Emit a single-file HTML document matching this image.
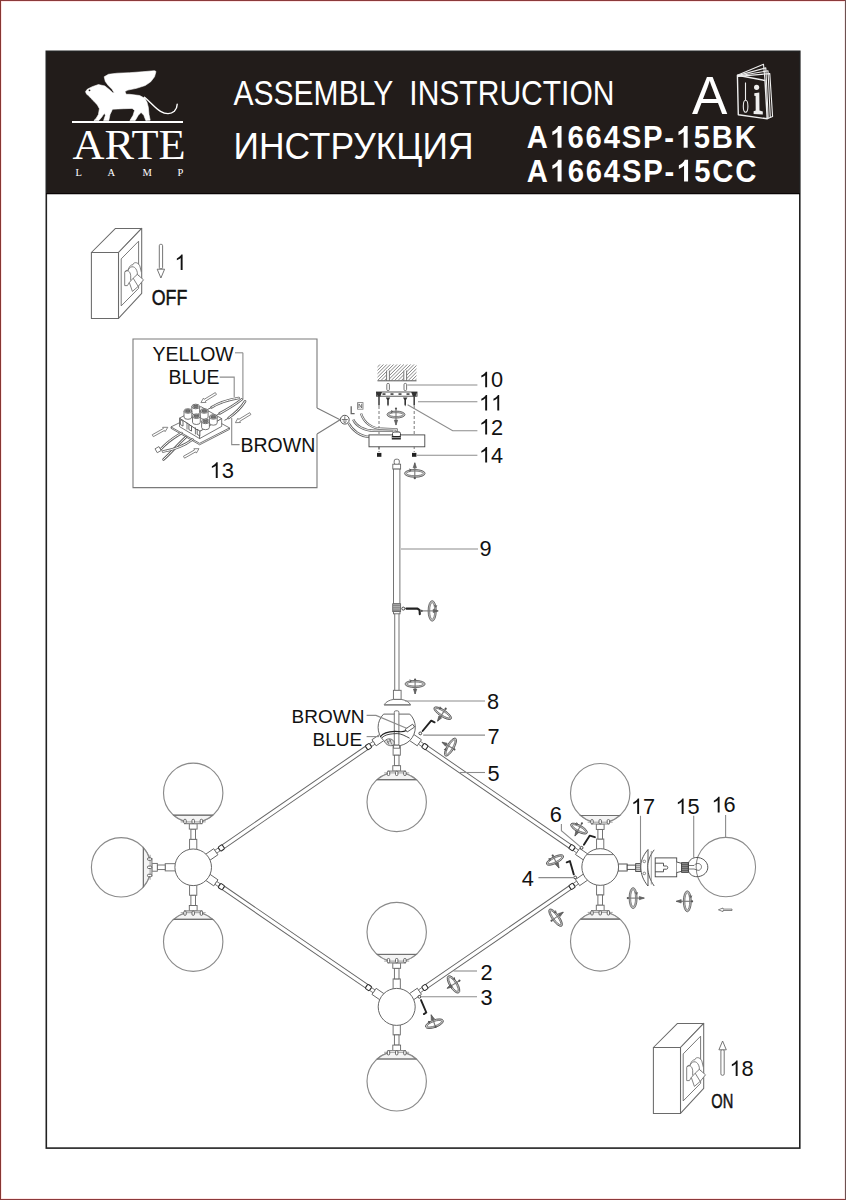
<!DOCTYPE html>
<html><head><meta charset="utf-8"><style>
html,body{margin:0;padding:0;background:#fff;width:846px;height:1200px;overflow:hidden}
svg{position:absolute;left:0;top:0;display:block}
text{font-family:"Liberation Sans",sans-serif}
.serif{font-family:"Liberation Serif",serif}
</style></head><body>
<svg width="846" height="1200" viewBox="0 0 846 1200">
<!-- outer edges -->
<rect x="0" y="0" width="846" height="1" fill="#8b3a3b"/>
<rect x="0" y="1199" width="846" height="1" fill="#8b3a3b"/>
<rect x="0" y="0" width="1" height="1200" fill="#873632"/>
<rect x="845" y="0" width="1" height="1200" fill="#6c5252"/>
<rect x="1" y="1" width="844" height="1" fill="#ffd6d6" opacity="0.6"/>
<rect x="1" y="1198" width="844" height="1" fill="#ffd6d6" opacity="0.6"/>
<rect x="1" y="1" width="1" height="1198" fill="#ffd6d6" opacity="0.6"/>
<rect x="844" y="1" width="1" height="1198" fill="#f3dede" opacity="0.6"/>

<!-- frame & header -->
<rect x="46" y="51" width="754" height="143" fill="#221c1a"/>
<rect x="46.3" y="51.3" width="753.5" height="1096.8" fill="none" stroke="#222" stroke-width="1.6"/>
<line x1="46" y1="193.6" x2="800" y2="193.6" stroke="#0a0506" stroke-width="1.2"/>

<g id="header" fill="#fff">
  <text x="233.5" y="104.7" font-size="35.3" xml:space="preserve" textLength="381" lengthAdjust="spacingAndGlyphs">ASSEMBLY  INSTRUCTION</text>
  <text x="233.5" y="158.8" font-size="37.5" textLength="240" lengthAdjust="spacingAndGlyphs">ИНСТРУКЦИЯ</text>
<!--H-->
<text x="526.67" y="147.8" font-size="31.8" font-weight="bold" fill="#fff" textLength="21.13" lengthAdjust="spacingAndGlyphs">A</text>
<path transform="translate(549.56,147.8) scale(0.01429,-0.01553)" d="M838,0 L557,0 L557,1013 Q403,875 194,810 L194,1054 Q304,1088 433,1184 Q562,1281 610,1409 L838,1409 Z" fill="#fff"/>
<text x="567.58" y="147.8" font-size="31.8" font-weight="bold" fill="#fff" textLength="16.27" lengthAdjust="spacingAndGlyphs">6</text>
<text x="585.61" y="147.8" font-size="31.8" font-weight="bold" fill="#fff" textLength="16.27" lengthAdjust="spacingAndGlyphs">6</text>
<text x="603.64" y="147.8" font-size="31.8" font-weight="bold" fill="#fff" textLength="16.27" lengthAdjust="spacingAndGlyphs">4</text>
<text x="621.67" y="147.8" font-size="31.8" font-weight="bold" fill="#fff" textLength="19.51" lengthAdjust="spacingAndGlyphs">S</text>
<text x="642.94" y="147.8" font-size="31.8" font-weight="bold" fill="#fff" textLength="19.51" lengthAdjust="spacingAndGlyphs">P</text>
<text x="664.21" y="147.8" font-size="31.8" font-weight="bold" fill="#fff" textLength="9.74" lengthAdjust="spacingAndGlyphs">-</text>
<path transform="translate(675.70,147.8) scale(0.01429,-0.01553)" d="M838,0 L557,0 L557,1013 Q403,875 194,810 L194,1054 Q304,1088 433,1184 Q562,1281 610,1409 L838,1409 Z" fill="#fff"/>
<text x="693.73" y="147.8" font-size="31.8" font-weight="bold" fill="#fff" textLength="16.27" lengthAdjust="spacingAndGlyphs">5</text>
<text x="711.76" y="147.8" font-size="31.8" font-weight="bold" fill="#fff" textLength="21.13" lengthAdjust="spacingAndGlyphs">B</text>
<text x="734.64" y="147.8" font-size="31.8" font-weight="bold" fill="#fff" textLength="21.13" lengthAdjust="spacingAndGlyphs">K</text>
<text x="526.67" y="181.6" font-size="31.8" font-weight="bold" fill="#fff" textLength="21.13" lengthAdjust="spacingAndGlyphs">A</text>
<path transform="translate(549.60,181.6) scale(0.01429,-0.01553)" d="M838,0 L557,0 L557,1013 Q403,875 194,810 L194,1054 Q304,1088 433,1184 Q562,1281 610,1409 L838,1409 Z" fill="#fff"/>
<text x="567.68" y="181.6" font-size="31.8" font-weight="bold" fill="#fff" textLength="16.27" lengthAdjust="spacingAndGlyphs">6</text>
<text x="585.75" y="181.6" font-size="31.8" font-weight="bold" fill="#fff" textLength="16.27" lengthAdjust="spacingAndGlyphs">6</text>
<text x="603.83" y="181.6" font-size="31.8" font-weight="bold" fill="#fff" textLength="16.27" lengthAdjust="spacingAndGlyphs">4</text>
<text x="621.91" y="181.6" font-size="31.8" font-weight="bold" fill="#fff" textLength="19.51" lengthAdjust="spacingAndGlyphs">S</text>
<text x="643.22" y="181.6" font-size="31.8" font-weight="bold" fill="#fff" textLength="19.51" lengthAdjust="spacingAndGlyphs">P</text>
<text x="664.54" y="181.6" font-size="31.8" font-weight="bold" fill="#fff" textLength="9.74" lengthAdjust="spacingAndGlyphs">-</text>
<path transform="translate(676.09,181.6) scale(0.01429,-0.01553)" d="M838,0 L557,0 L557,1013 Q403,875 194,810 L194,1054 Q304,1088 433,1184 Q562,1281 610,1409 L838,1409 Z" fill="#fff"/>
<text x="694.16" y="181.6" font-size="31.8" font-weight="bold" fill="#fff" textLength="16.27" lengthAdjust="spacingAndGlyphs">5</text>
<text x="712.24" y="181.6" font-size="31.8" font-weight="bold" fill="#fff" textLength="21.13" lengthAdjust="spacingAndGlyphs">C</text>
<text x="735.17" y="181.6" font-size="31.8" font-weight="bold" fill="#fff" textLength="21.13" lengthAdjust="spacingAndGlyphs">C</text>
<!--/H-->
  <text x="692" y="114" font-size="53">A</text>
  <text class="serif" x="72.5" y="158.5" font-size="43" textLength="113" lengthAdjust="spacingAndGlyphs">ARTE</text>
  <text class="serif" x="75.5" y="176" font-size="10.5">L</text>
  <text class="serif" x="107.5" y="176" font-size="10.5">A</text>
  <text class="serif" x="142.5" y="176" font-size="10.5">M</text>
  <text class="serif" x="177.5" y="176" font-size="10.5">P</text>
  <rect x="72" y="121" width="111" height="2"/>
  <g fill="none" stroke="#eee" stroke-width="1.1" stroke-linejoin="round">
    <path d="M737.4,75.2 L765,80.5 L767.2,118.8 L738.3,114.8 Z" stroke-width="1.4"/>
    <path d="M737.4,75.2 L763.5,64.3 L765,80.5"/>
    <path d="M737.6,75.6 L765.8,67.9 L768.2,118.2"/>
    <path d="M737.8,76 L768,70.8 L770.3,117.6"/>
    <path d="M738,76.4 L769.8,73.6 L772.6,116.6 L767.2,118.8"/>
    <path d="M745.5,82.5 L745.5,100"/>
  </g>
  <ellipse cx="745.6" cy="106.3" rx="2.3" ry="6" fill="none" stroke="#eee" stroke-width="1.1"/>
  <circle cx="756.6" cy="87.3" r="2.6" fill="#eee"/>
  <path d="M754.3,93.2 L759.3,92.6 L759.5,110.6 L762.8,111.6 L762.8,114.5 L753.6,114 L753.6,111.3 L755.7,110.6 L755.6,96 L754.3,95.8 Z" fill="#eee"/>
  <path d="M104.2,76.8 L108.5,74.3 L117.2,73.2 L129.6,72.7 L142.1,71.8 L154.5,70.7 L156.0,71.5 L154.5,76.8 L150.7,81.8 L145.2,85.5 L136.5,88.3 L127.8,90.1 L124.9,91.6 L126.2,94.3 L129.6,94.3 L139.6,95.5 L144.8,98.3 L147.0,102.2 L148.3,107.2 L149.0,114.6 L150.2,120.2 L145.8,120.5 L143.8,115.3 L141.1,112.4 L138.3,115.3 L135.2,120.5 L129.9,120.5 L133.1,115.3 L134.6,110.3 L132.1,108.4 L123.4,108.7 L112.5,109.2 L110.0,114.6 L108.8,120.5 L103.6,120.5 L105.4,115.3 L104.3,113.2 L101.8,117.1 L98.9,120.5 L93.9,120.5 L96.1,118.4 L98.4,114.6 L99.4,108.7 L97.4,105.0 L93.9,101.2 L90.7,98.1 L88.7,95.8 L86.7,94.3 L85.5,91.7 L87.2,89.3 L92.2,86.7 L98.4,84.6 L104.8,85.9 L109.3,89.6 L112.5,92.6 L114.3,93.1 L112.0,89.3 L108.3,85.5 L105.3,81.4 Z" stroke="#fff" stroke-width="0.6" stroke-linejoin="round"/>
  <circle cx="89.5" cy="90.3" r="0.9" fill="#221c1a"/>
  <path d="M144.5,97.2 C150,101.5 155,108 160.5,111.3 C165.5,114.3 171,114.2 174.3,111.2 C176.5,109 177.2,106.5 177.2,104.3" fill="none" stroke="#fff" stroke-width="1.4" stroke-linecap="round"/>
</g>

<!--D-->
<g id="diagram">
<g transform="translate(396.7,727.2) rotate(145.454)">
<rect x="36.6" y="-2.1" width="173.9" height="4.2" fill="#fff" stroke="#666666" stroke-width="0.95"/>
<rect x="16.9" y="-3.7" width="10.6" height="7.4" fill="#fff" stroke="#666666" stroke-width="0.9"/>
<rect x="27.5" y="-1.7" width="4.0" height="3.4" fill="#fff" stroke="#666666" stroke-width="0.8"/>
<rect x="31.8" y="-2.5" width="4.8" height="5.0" rx="1.1" fill="#fff" stroke="#2a2a2a" stroke-width="1.0"/>
<rect x="219.6" y="-3.7" width="10.6" height="7.4" fill="#fff" stroke="#666666" stroke-width="0.9"/>
<rect x="215.6" y="-1.7" width="4.0" height="3.4" fill="#fff" stroke="#666666" stroke-width="0.8"/>
<rect x="210.5" y="-2.5" width="4.8" height="5.0" rx="1.1" fill="#fff" stroke="#2a2a2a" stroke-width="1.0"/>
</g>
<g transform="translate(396.7,727.2) rotate(34.488)">
<rect x="36.6" y="-2.1" width="173.7" height="4.2" fill="#fff" stroke="#666666" stroke-width="0.95"/>
<rect x="16.9" y="-3.7" width="10.6" height="7.4" fill="#fff" stroke="#666666" stroke-width="0.9"/>
<rect x="27.5" y="-1.7" width="4.0" height="3.4" fill="#fff" stroke="#666666" stroke-width="0.8"/>
<rect x="31.8" y="-2.5" width="4.8" height="5.0" rx="1.1" fill="#fff" stroke="#2a2a2a" stroke-width="1.0"/>
<rect x="219.4" y="-3.7" width="10.6" height="7.4" fill="#fff" stroke="#666666" stroke-width="0.9"/>
<rect x="215.4" y="-1.7" width="4.0" height="3.4" fill="#fff" stroke="#666666" stroke-width="0.8"/>
<rect x="210.3" y="-2.5" width="4.8" height="5.0" rx="1.1" fill="#fff" stroke="#2a2a2a" stroke-width="1.0"/>
</g>
<g transform="translate(193.2,867.3) rotate(34.450)">
<rect x="36.6" y="-2.1" width="173.6" height="4.2" fill="#fff" stroke="#666666" stroke-width="0.95"/>
<rect x="16.9" y="-3.7" width="10.6" height="7.4" fill="#fff" stroke="#666666" stroke-width="0.9"/>
<rect x="27.5" y="-1.7" width="4.0" height="3.4" fill="#fff" stroke="#666666" stroke-width="0.8"/>
<rect x="31.8" y="-2.5" width="4.8" height="5.0" rx="1.1" fill="#fff" stroke="#2a2a2a" stroke-width="1.0"/>
<rect x="219.3" y="-3.7" width="10.6" height="7.4" fill="#fff" stroke="#666666" stroke-width="0.9"/>
<rect x="215.3" y="-1.7" width="4.0" height="3.4" fill="#fff" stroke="#666666" stroke-width="0.8"/>
<rect x="210.2" y="-2.5" width="4.8" height="5.0" rx="1.1" fill="#fff" stroke="#2a2a2a" stroke-width="1.0"/>
</g>
<g transform="translate(600.2,867.0) rotate(145.493)">
<rect x="36.6" y="-2.1" width="173.7" height="4.2" fill="#fff" stroke="#666666" stroke-width="0.95"/>
<rect x="16.9" y="-3.7" width="10.6" height="7.4" fill="#fff" stroke="#666666" stroke-width="0.9"/>
<rect x="27.5" y="-1.7" width="4.0" height="3.4" fill="#fff" stroke="#666666" stroke-width="0.8"/>
<rect x="31.8" y="-2.5" width="4.8" height="5.0" rx="1.1" fill="#fff" stroke="#2a2a2a" stroke-width="1.0"/>
<rect x="219.4" y="-3.7" width="10.6" height="7.4" fill="#fff" stroke="#666666" stroke-width="0.9"/>
<rect x="215.4" y="-1.7" width="4.0" height="3.4" fill="#fff" stroke="#666666" stroke-width="0.8"/>
<rect x="210.3" y="-2.5" width="4.8" height="5.0" rx="1.1" fill="#fff" stroke="#2a2a2a" stroke-width="1.0"/>
</g>
<g transform="translate(396.7,727.2) rotate(90)">
<rect x="17.2" y="-3.6" width="10.8" height="7.2" fill="#fff" stroke="#666666" stroke-width="0.9"/>
<rect x="28" y="-2.3" width="10.5" height="4.6" fill="#fff" stroke="#666666" stroke-width="0.9"/>
<rect x="38.5" y="-3.9" width="5.4" height="7.8" fill="#fff" stroke="#666666" stroke-width="0.9"/>
<circle cx="74.7" cy="0" r="29.7" fill="#fff" stroke="#8a8a8a" stroke-width="1.15"/>
<path d="M52.40,-19.62 A29.7,29.7 0 0 0 46.27,-8.6 L43.90,-8.6 L43.90,8.6 L46.27,8.6 A29.7,29.7 0 0 0 52.40,19.62 Z" fill="#f4f4f4" stroke="#8a8a8a" stroke-width="1.2"/>
<line x1="52.40" y1="-19.62" x2="52.40" y2="19.62" stroke="#707070" stroke-width="1.05"/>
<line x1="45.70" y1="-12.5" x2="45.70" y2="12.5" stroke="#8a8a8a" stroke-width="0.8"/>
<rect x="44.10" y="-9.399999999999999" width="4.2" height="2.4" rx="1.0" fill="#fff" stroke="#555" stroke-width="0.9"/>
<rect x="44.10" y="-1.2" width="4.2" height="2.4" rx="1.0" fill="#fff" stroke="#555" stroke-width="0.9"/>
<rect x="44.10" y="6.999999999999999" width="4.2" height="2.4" rx="1.0" fill="#fff" stroke="#555" stroke-width="0.9"/>
</g>
<g transform="translate(193.2,867.3) rotate(-90)">
<rect x="17.2" y="-3.6" width="10.8" height="7.2" fill="#fff" stroke="#666666" stroke-width="0.9"/>
<rect x="28" y="-2.3" width="10.2" height="4.6" fill="#fff" stroke="#666666" stroke-width="0.9"/>
<rect x="38.2" y="-3.9" width="5.4" height="7.8" fill="#fff" stroke="#666666" stroke-width="0.9"/>
<circle cx="74.4" cy="0" r="29.7" fill="#fff" stroke="#8a8a8a" stroke-width="1.15"/>
<path d="M52.10,-19.62 A29.7,29.7 0 0 0 45.97,-8.6 L43.60,-8.6 L43.60,8.6 L45.97,8.6 A29.7,29.7 0 0 0 52.10,19.62 Z" fill="#f4f4f4" stroke="#8a8a8a" stroke-width="1.2"/>
<line x1="52.10" y1="-19.62" x2="52.10" y2="19.62" stroke="#707070" stroke-width="1.05"/>
<line x1="45.40" y1="-12.5" x2="45.40" y2="12.5" stroke="#8a8a8a" stroke-width="0.8"/>
<rect x="43.80" y="-9.399999999999999" width="4.2" height="2.4" rx="1.0" fill="#fff" stroke="#555" stroke-width="0.9"/>
<rect x="43.80" y="-1.2" width="4.2" height="2.4" rx="1.0" fill="#fff" stroke="#555" stroke-width="0.9"/>
<rect x="43.80" y="6.999999999999999" width="4.2" height="2.4" rx="1.0" fill="#fff" stroke="#555" stroke-width="0.9"/>
</g>
<g transform="translate(193.2,867.3) rotate(90)">
<rect x="17.2" y="-3.6" width="10.8" height="7.2" fill="#fff" stroke="#666666" stroke-width="0.9"/>
<rect x="28" y="-2.3" width="10.2" height="4.6" fill="#fff" stroke="#666666" stroke-width="0.9"/>
<rect x="38.2" y="-3.9" width="5.4" height="7.8" fill="#fff" stroke="#666666" stroke-width="0.9"/>
<circle cx="74.4" cy="0" r="29.7" fill="#fff" stroke="#8a8a8a" stroke-width="1.15"/>
<path d="M52.10,-19.62 A29.7,29.7 0 0 0 45.97,-8.6 L43.60,-8.6 L43.60,8.6 L45.97,8.6 A29.7,29.7 0 0 0 52.10,19.62 Z" fill="#f4f4f4" stroke="#8a8a8a" stroke-width="1.2"/>
<line x1="52.10" y1="-19.62" x2="52.10" y2="19.62" stroke="#707070" stroke-width="1.05"/>
<line x1="45.40" y1="-12.5" x2="45.40" y2="12.5" stroke="#8a8a8a" stroke-width="0.8"/>
<rect x="43.80" y="-9.399999999999999" width="4.2" height="2.4" rx="1.0" fill="#fff" stroke="#555" stroke-width="0.9"/>
<rect x="43.80" y="-1.2" width="4.2" height="2.4" rx="1.0" fill="#fff" stroke="#555" stroke-width="0.9"/>
<rect x="43.80" y="6.999999999999999" width="4.2" height="2.4" rx="1.0" fill="#fff" stroke="#555" stroke-width="0.9"/>
</g>
<g transform="translate(193.2,867.3) rotate(180)">
<rect x="17.2" y="-3.6" width="10.8" height="7.2" fill="#fff" stroke="#666666" stroke-width="0.9"/>
<rect x="28" y="-2.3" width="7.9" height="4.6" fill="#fff" stroke="#666666" stroke-width="0.9"/>
<rect x="35.9" y="-3.9" width="5.4" height="7.8" fill="#fff" stroke="#666666" stroke-width="0.9"/>
<circle cx="72.1" cy="0" r="29.7" fill="#fff" stroke="#8a8a8a" stroke-width="1.15"/>
<path d="M49.80,-19.62 A29.7,29.7 0 0 0 43.67,-8.6 L41.30,-8.6 L41.30,8.6 L43.67,8.6 A29.7,29.7 0 0 0 49.80,19.62 Z" fill="#f4f4f4" stroke="#8a8a8a" stroke-width="1.2"/>
<line x1="49.80" y1="-19.62" x2="49.80" y2="19.62" stroke="#707070" stroke-width="1.05"/>
<line x1="43.10" y1="-12.5" x2="43.10" y2="12.5" stroke="#8a8a8a" stroke-width="0.8"/>
<rect x="41.50" y="-9.399999999999999" width="4.2" height="2.4" rx="1.0" fill="#fff" stroke="#555" stroke-width="0.9"/>
<rect x="41.50" y="-1.2" width="4.2" height="2.4" rx="1.0" fill="#fff" stroke="#555" stroke-width="0.9"/>
<rect x="41.50" y="6.999999999999999" width="4.2" height="2.4" rx="1.0" fill="#fff" stroke="#555" stroke-width="0.9"/>
</g>
<g transform="translate(600.2,867.0) rotate(-90)">
<rect x="17.2" y="-3.6" width="10.8" height="7.2" fill="#fff" stroke="#666666" stroke-width="0.9"/>
<rect x="28" y="-2.3" width="9.6" height="4.6" fill="#fff" stroke="#666666" stroke-width="0.9"/>
<rect x="37.6" y="-3.9" width="5.4" height="7.8" fill="#fff" stroke="#666666" stroke-width="0.9"/>
<circle cx="73.8" cy="0" r="29.7" fill="#fff" stroke="#8a8a8a" stroke-width="1.15"/>
<path d="M51.50,-19.62 A29.7,29.7 0 0 0 45.37,-8.6 L43.00,-8.6 L43.00,8.6 L45.37,8.6 A29.7,29.7 0 0 0 51.50,19.62 Z" fill="#f4f4f4" stroke="#8a8a8a" stroke-width="1.2"/>
<line x1="51.50" y1="-19.62" x2="51.50" y2="19.62" stroke="#707070" stroke-width="1.05"/>
<line x1="44.80" y1="-12.5" x2="44.80" y2="12.5" stroke="#8a8a8a" stroke-width="0.8"/>
<rect x="43.20" y="-9.399999999999999" width="4.2" height="2.4" rx="1.0" fill="#fff" stroke="#555" stroke-width="0.9"/>
<rect x="43.20" y="-1.2" width="4.2" height="2.4" rx="1.0" fill="#fff" stroke="#555" stroke-width="0.9"/>
<rect x="43.20" y="6.999999999999999" width="4.2" height="2.4" rx="1.0" fill="#fff" stroke="#555" stroke-width="0.9"/>
</g>
<g transform="translate(600.2,867.0) rotate(90)">
<rect x="17.2" y="-3.6" width="10.8" height="7.2" fill="#fff" stroke="#666666" stroke-width="0.9"/>
<rect x="28" y="-2.3" width="10.2" height="4.6" fill="#fff" stroke="#666666" stroke-width="0.9"/>
<rect x="38.2" y="-3.9" width="5.4" height="7.8" fill="#fff" stroke="#666666" stroke-width="0.9"/>
<circle cx="74.4" cy="0" r="29.7" fill="#fff" stroke="#8a8a8a" stroke-width="1.15"/>
<path d="M52.10,-19.62 A29.7,29.7 0 0 0 45.97,-8.6 L43.60,-8.6 L43.60,8.6 L45.97,8.6 A29.7,29.7 0 0 0 52.10,19.62 Z" fill="#f4f4f4" stroke="#8a8a8a" stroke-width="1.2"/>
<line x1="52.10" y1="-19.62" x2="52.10" y2="19.62" stroke="#707070" stroke-width="1.05"/>
<line x1="45.40" y1="-12.5" x2="45.40" y2="12.5" stroke="#8a8a8a" stroke-width="0.8"/>
<rect x="43.80" y="-9.399999999999999" width="4.2" height="2.4" rx="1.0" fill="#fff" stroke="#555" stroke-width="0.9"/>
<rect x="43.80" y="-1.2" width="4.2" height="2.4" rx="1.0" fill="#fff" stroke="#555" stroke-width="0.9"/>
<rect x="43.80" y="6.999999999999999" width="4.2" height="2.4" rx="1.0" fill="#fff" stroke="#555" stroke-width="0.9"/>
</g>
<g transform="translate(396.7,1006.9) rotate(-90)">
<rect x="17.2" y="-3.6" width="10.8" height="7.2" fill="#fff" stroke="#666666" stroke-width="0.9"/>
<rect x="28" y="-2.3" width="10.6" height="4.6" fill="#fff" stroke="#666666" stroke-width="0.9"/>
<rect x="38.6" y="-3.9" width="5.4" height="7.8" fill="#fff" stroke="#666666" stroke-width="0.9"/>
<circle cx="74.8" cy="0" r="29.7" fill="#fff" stroke="#8a8a8a" stroke-width="1.15"/>
<path d="M52.50,-19.62 A29.7,29.7 0 0 0 46.37,-8.6 L44.00,-8.6 L44.00,8.6 L46.37,8.6 A29.7,29.7 0 0 0 52.50,19.62 Z" fill="#f4f4f4" stroke="#8a8a8a" stroke-width="1.2"/>
<line x1="52.50" y1="-19.62" x2="52.50" y2="19.62" stroke="#707070" stroke-width="1.05"/>
<line x1="45.80" y1="-12.5" x2="45.80" y2="12.5" stroke="#8a8a8a" stroke-width="0.8"/>
<rect x="44.20" y="-9.399999999999999" width="4.2" height="2.4" rx="1.0" fill="#fff" stroke="#555" stroke-width="0.9"/>
<rect x="44.20" y="-1.2" width="4.2" height="2.4" rx="1.0" fill="#fff" stroke="#555" stroke-width="0.9"/>
<rect x="44.20" y="6.999999999999999" width="4.2" height="2.4" rx="1.0" fill="#fff" stroke="#555" stroke-width="0.9"/>
</g>
<g transform="translate(396.7,1006.9) rotate(90)">
<rect x="17.2" y="-3.6" width="10.8" height="7.2" fill="#fff" stroke="#666666" stroke-width="0.9"/>
<rect x="28" y="-2.3" width="10.2" height="4.6" fill="#fff" stroke="#666666" stroke-width="0.9"/>
<rect x="38.2" y="-3.9" width="5.4" height="7.8" fill="#fff" stroke="#666666" stroke-width="0.9"/>
<circle cx="74.4" cy="0" r="29.7" fill="#fff" stroke="#8a8a8a" stroke-width="1.15"/>
<path d="M52.10,-19.62 A29.7,29.7 0 0 0 45.97,-8.6 L43.60,-8.6 L43.60,8.6 L45.97,8.6 A29.7,29.7 0 0 0 52.10,19.62 Z" fill="#f4f4f4" stroke="#8a8a8a" stroke-width="1.2"/>
<line x1="52.10" y1="-19.62" x2="52.10" y2="19.62" stroke="#707070" stroke-width="1.05"/>
<line x1="45.40" y1="-12.5" x2="45.40" y2="12.5" stroke="#8a8a8a" stroke-width="0.8"/>
<rect x="43.80" y="-9.399999999999999" width="4.2" height="2.4" rx="1.0" fill="#fff" stroke="#555" stroke-width="0.9"/>
<rect x="43.80" y="-1.2" width="4.2" height="2.4" rx="1.0" fill="#fff" stroke="#555" stroke-width="0.9"/>
<rect x="43.80" y="6.999999999999999" width="4.2" height="2.4" rx="1.0" fill="#fff" stroke="#555" stroke-width="0.9"/>
</g>
<g fill="#fff" stroke="#666666" stroke-width="0.9">
<rect x="394.2" y="459.2" width="5.1" height="5.4" rx="1.8"/>
<rect x="392.8" y="464.2" width="7.8" height="4.9"/>
<rect x="393.5" y="469.1" width="6.4" height="134.7"/>
<rect x="394.75" y="611.6" width="4.25" height="79.2"/>
<rect x="392.7" y="603.8" width="7.9" height="7.8" fill="#b5b5b5"/>
<rect x="393.5" y="611.6" width="6.5" height="2.2"/>
<rect x="393.4" y="690.3" width="7.7" height="9.1"/>
<path d="M384.1,704.8 C386,701.5 390,700 393.4,699.4 L401.1,699.4 C405,700 409,701.5 410.6,704.8 Z" fill="#fff"/>
<line x1="384.1" y1="704.8" x2="410.6" y2="704.8" stroke="#888" stroke-width="1.6"/>
</g>
<line x1="393" y1="605.5" x2="400.3" y2="605.5" stroke="#666" stroke-width="0.6"/>
<line x1="393" y1="607.3" x2="400.3" y2="607.3" stroke="#666" stroke-width="0.6"/>
<line x1="393" y1="609.1" x2="400.3" y2="609.1" stroke="#666" stroke-width="0.6"/>
<line x1="393" y1="610.6" x2="400.3" y2="610.6" stroke="#666" stroke-width="0.6"/>
<circle cx="403.3" cy="608.6" r="1.5" fill="#fff" stroke="#333" stroke-width="0.9"/>
<path d="M406.3,608.6 L417.5,608.6 L419.6,610.2 L419.8,614.1" fill="none" stroke="#222" stroke-width="2.1" stroke-linecap="round" stroke-linejoin="round"/>
<g transform="translate(432.2,610.9) rotate(90)" fill="none">
<ellipse cx="0" cy="0" rx="9.30" ry="3.30" stroke="#c4c4c4" stroke-width="1.6"/>
<ellipse cx="0" cy="0" rx="10.3" ry="4.1" stroke="#5a5a5a" stroke-width="0.85"/>
<ellipse cx="0" cy="0" rx="8.30" ry="2.50" stroke="#6a6a6a" stroke-width="0.75"/>
<path d="M-5.67,-4.60 L-3.60,-3.69 L-5.67,-2.20" stroke="#555" stroke-width="0.9"/>
<line x1="0" y1="10.5" x2="0" y2="-6.0" stroke="#777" stroke-width="1.1"/>
<path d="M-1.7,-1.0 L0,-6.0 L1.7,-1.0 Z" fill="#666" stroke="#555" stroke-width="0.6"/>
<circle cx="0" cy="10.5" r="1.1" fill="#555"/>
</g>
<g transform="translate(414.8,473.4) rotate(0)" fill="none">
<ellipse cx="0" cy="0" rx="9.30" ry="3.10" stroke="#c4c4c4" stroke-width="1.6"/>
<ellipse cx="0" cy="0" rx="10.3" ry="3.9" stroke="#5a5a5a" stroke-width="0.85"/>
<ellipse cx="0" cy="0" rx="8.30" ry="2.30" stroke="#6a6a6a" stroke-width="0.75"/>
<path d="M-5.67,-4.44 L-3.60,-3.51 L-5.67,-2.04" stroke="#555" stroke-width="0.9"/>
<line x1="0" y1="4.8" x2="0" y2="-10.6" stroke="#777" stroke-width="1.1"/>
<path d="M-1.7,-5.6 L0,-10.6 L1.7,-5.6 Z" fill="#666" stroke="#555" stroke-width="0.6"/>
<circle cx="0" cy="4.8" r="1.1" fill="#555"/>
</g>
<g transform="translate(415.1,684.0) rotate(0)" fill="none">
<ellipse cx="0" cy="0" rx="9.10" ry="2.80" stroke="#c4c4c4" stroke-width="1.6"/>
<ellipse cx="0" cy="0" rx="10.1" ry="3.6" stroke="#5a5a5a" stroke-width="0.85"/>
<ellipse cx="0" cy="0" rx="8.10" ry="2.00" stroke="#6a6a6a" stroke-width="0.75"/>
<path d="M-5.56,-4.19 L-3.53,-3.24 L-5.56,-1.79" stroke="#555" stroke-width="0.9"/>
<line x1="0" y1="-4.5" x2="0" y2="10.0" stroke="#777" stroke-width="1.1"/>
<path d="M-1.7,5.0 L0,10.0 L1.7,5.0 Z" fill="#666" stroke="#555" stroke-width="0.6"/>
<circle cx="0" cy="-4.5" r="1.1" fill="#555"/>
</g>
<defs><clipPath id="hc"><rect x="377.5" y="364.3" width="39" height="16.3"/></clipPath></defs>
<g clip-path="url(#hc)" stroke="#777" stroke-width="0.9">
<line x1="363.9" y1="380.6" x2="380.2" y2="364.3"/>
<line x1="367.3" y1="380.6" x2="383.6" y2="364.3"/>
<line x1="370.7" y1="380.6" x2="387.0" y2="364.3"/>
<line x1="374.1" y1="380.6" x2="390.4" y2="364.3"/>
<line x1="377.5" y1="380.6" x2="393.8" y2="364.3"/>
<line x1="380.9" y1="380.6" x2="397.2" y2="364.3"/>
<line x1="384.3" y1="380.6" x2="400.6" y2="364.3"/>
<line x1="387.7" y1="380.6" x2="404.0" y2="364.3"/>
<line x1="391.1" y1="380.6" x2="407.4" y2="364.3"/>
<line x1="394.5" y1="380.6" x2="410.8" y2="364.3"/>
<line x1="397.9" y1="380.6" x2="414.2" y2="364.3"/>
<line x1="401.3" y1="380.6" x2="417.6" y2="364.3"/>
<line x1="404.7" y1="380.6" x2="421.0" y2="364.3"/>
<line x1="408.1" y1="380.6" x2="424.4" y2="364.3"/>
<line x1="411.5" y1="380.6" x2="427.8" y2="364.3"/>
<line x1="414.9" y1="380.6" x2="431.2" y2="364.3"/>
<line x1="418.3" y1="380.6" x2="434.6" y2="364.3"/>
<line x1="421.7" y1="380.6" x2="438.0" y2="364.3"/>
</g>
<rect x="386.3" y="370.5" width="3.4" height="10.5" fill="#fff"/>
<rect x="403.5" y="370.5" width="3.4" height="10.5" fill="#fff"/>
<g stroke="#555" stroke-width="0.8"><line x1="386.6" y1="370.5" x2="386.6" y2="380.6"/><line x1="389.4" y1="370.5" x2="389.4" y2="380.6"/><line x1="403.8" y1="370.5" x2="403.8" y2="380.6"/><line x1="406.6" y1="370.5" x2="406.6" y2="380.6"/></g>
<line x1="377.5" y1="380.8" x2="416.5" y2="380.8" stroke="#555" stroke-width="1"/>
<g fill="#fff" stroke="#555" stroke-width="0.8"><rect x="386.8" y="383.4" width="2.6" height="7.2" rx="1.2"/><rect x="404" y="383.4" width="2.6" height="7.2" rx="1.2"/></g>
<rect x="376.5" y="392" width="40.5" height="4.2" fill="#fff" stroke="#444" stroke-width="0.9"/>
<rect x="382.5" y="393.2" width="3" height="1.8" fill="#555"/>
<rect x="390.5" y="393.2" width="3" height="1.8" fill="#555"/>
<rect x="398.5" y="393.2" width="3" height="1.8" fill="#555"/>
<rect x="406.5" y="393.2" width="3" height="1.8" fill="#555"/>
<path d="M376,392 L382,392 L380.3,396.5 L377.7,396.5 Z" fill="#333"/>
<line x1="379" y1="396" x2="379" y2="405.5" stroke="#444" stroke-width="1.6"/>
<path d="M411.2,392 L417.2,392 L415.5,396.5 L412.9,396.5 Z" fill="#333"/>
<line x1="414.2" y1="396" x2="414.2" y2="405.5" stroke="#444" stroke-width="1.6"/>
<path d="M385.8,397.6 L390.2,397.6 L388.8,400 L388.8,404.5 L388,406.5 L387.2,404.5 L387.2,400 Z" fill="#333"/>
<path d="M403.0,397.6 L407.4,397.6 L406.0,400 L406.0,404.5 L405.2,406.5 L404.4,404.5 L404.4,400 Z" fill="#333"/>
<g transform="translate(396,414.6) rotate(0)" fill="none">
<ellipse cx="0" cy="0" rx="8.00" ry="2.70" stroke="#c4c4c4" stroke-width="1.6"/>
<ellipse cx="0" cy="0" rx="9" ry="3.5" stroke="#5a5a5a" stroke-width="0.85"/>
<ellipse cx="0" cy="0" rx="7.00" ry="1.90" stroke="#6a6a6a" stroke-width="0.75"/>
<path d="M-4.95,-4.10 L-3.15,-3.15 L-4.95,-1.70" stroke="#555" stroke-width="0.9"/>
<line x1="0" y1="-6.0" x2="0" y2="10.5" stroke="#777" stroke-width="1.1"/>
<path d="M-1.7,5.5 L0,10.5 L1.7,5.5 Z" fill="#666" stroke="#555" stroke-width="0.6"/>
<circle cx="0" cy="-6.0" r="1.1" fill="#555"/>
</g>
<g stroke="#555" stroke-width="0.8" stroke-dasharray="3 2"><line x1="379" y1="406" x2="379" y2="452"/><line x1="414.2" y1="406" x2="414.2" y2="452"/></g>
<path d="M348.5,423 C352,430 360,436.5 370,437 L393,437.3" fill="none" stroke="#666" stroke-width="2.4"/>
<path d="M348.5,423 C352,430 360,436.5 370,437 L393,437.3" fill="none" stroke="#fff" stroke-width="0.9"/>
<path d="M353.2,419.5 C356,426 364,430.5 374,430.8 L393,430.8" fill="none" stroke="#666" stroke-width="2.4"/>
<path d="M353.2,419.5 C356,426 364,430.5 374,430.8 L393,430.8" fill="none" stroke="#fff" stroke-width="0.9"/>
<path d="M361,413.5 C364,423 372,428.6 382,428.8 L396.5,429.3 L397.5,433.5" fill="none" stroke="#666" stroke-width="2.4"/>
<path d="M361,413.5 C364,423 372,428.6 382,428.8 L396.5,429.3 L397.5,433.5" fill="none" stroke="#fff" stroke-width="0.9"/>
<rect x="369" y="434.9" width="55.8" height="11.9" fill="#fff" stroke="#444" stroke-width="0.9"/>
<rect x="392.5" y="432" width="8" height="4.6" rx="1.5" fill="#fff" stroke="#333" stroke-width="0.9"/>
<rect x="391.8" y="436" width="9" height="3.5" fill="#222"/>
<line x1="392" y1="437.6" x2="400.6" y2="437.6" stroke="#fff" stroke-width="0.6"/>
<line x1="379" y1="446.8" x2="379" y2="452" stroke="#555" stroke-width="0.8" stroke-dasharray="3 2"/>
<rect x="377" y="452.9" width="4.4" height="3.9" fill="#222"/>
<rect x="412" y="452.9" width="4.4" height="3.9" fill="#222"/>
<circle cx="344.8" cy="419.7" r="4.4" fill="#fff" stroke="#555" stroke-width="1"/>
<path d="M344.8,416.3 L344.8,419.3 M341.8,419.5 L347.8,419.5 M342.8,421 L346.8,421 M343.8,422.4 L345.8,422.4" stroke="#555" stroke-width="0.8"/>
<path d="M351.2,406.2 L351.2,413.6 L354.6,413.6" fill="none" stroke="#666" stroke-width="1.3"/>
<rect x="357.6" y="402.6" width="5.4" height="6.6" fill="#fff" stroke="#777" stroke-width="0.8"/>
<path d="M358.9,408 L358.9,403.8 L361.7,408 L361.7,403.8" fill="none" stroke="#666" stroke-width="0.9"/>
<path d="M317,408 L317,339 L133,339 L133,487.6 L317,487.6 L317,434 M317,408 L340.1,419.7 L317,434" fill="none" stroke="#7a7a7a" stroke-width="1.1"/>
<g transform="translate(0,0)" fill="#fff" stroke="#6a6a6a" stroke-width="1.05" stroke-linejoin="round">
<path d="M91.4,252.5 L115.5,228.4 L141.7,228.4 L118.5,252.5 Z"/>
<path d="M118.5,252.5 L141.7,228.4 L141.7,293.3 L118.5,318.4 Z"/>
<rect x="91.4" y="252.5" width="27.1" height="66"/>
<path d="M121.2,258.9 L138.6,241.2 L138.6,288.3 L121.2,305.9 Z" stroke-width="0.9"/>
<g stroke="#6a6a6a" stroke-width="0.85" fill="none">
<path d="M124.7,285.6 L124.7,272.4 C125,270.5 127,270 128.2,270.5 C129,266 131.5,264.5 132.6,265 C133.5,262 137.5,261.5 139.8,265.8 L141.5,272.8" fill="#fff"/>
<path d="M124.9,272 C127.5,269.5 130.2,271 130.7,275.7 L130.7,280.5 M128.2,269.6 C131,265 136,266 137.3,272.4 L137.3,275"/>
<path d="M129.3,282.5 L133.2,278.2 L138.2,286.4 L132.4,291.4 Z M133.2,278.2 L137.3,274.4 L143.5,279.8 L138.2,286.4 M124.7,285.6 L127.4,285.6 L129.3,282.5" fill="#fff"/>
</g></g>
<g transform="translate(562,795)" fill="#fff" stroke="#6a6a6a" stroke-width="1.05" stroke-linejoin="round">
<path d="M91.4,252.5 L115.5,228.4 L141.7,228.4 L118.5,252.5 Z"/>
<path d="M118.5,252.5 L141.7,228.4 L141.7,293.3 L118.5,318.4 Z"/>
<rect x="91.4" y="252.5" width="27.1" height="66"/>
<path d="M121.2,258.9 L138.6,241.2 L138.6,288.3 L121.2,305.9 Z" stroke-width="0.9"/>
<g stroke="#6a6a6a" stroke-width="0.85" fill="none">
<path d="M124.7,285.6 L124.7,272.4 C125,270.5 127,270 128.2,270.5 C129,266 131.5,264.5 132.6,265 C133.5,262 137.5,261.5 139.8,265.8 L141.5,272.8" fill="#fff"/>
<path d="M124.9,272 C127.5,269.5 130.2,271 130.7,275.7 L130.7,280.5 M128.2,269.6 C131,265 136,266 137.3,272.4 L137.3,275"/>
<path d="M129.3,282.5 L133.2,278.2 L138.2,286.4 L132.4,291.4 Z M133.2,278.2 L137.3,274.4 L143.5,279.8 L138.2,286.4 M124.7,285.6 L127.4,285.6 L129.3,282.5" fill="#fff"/>
</g></g>
<g fill="#fff" stroke="#666" stroke-width="0.9">
<rect x="159.3" y="244.3" width="3.3" height="24.5" rx="1.4"/>
<path d="M157.2,269.2 L164.6,269.2 L160.9,278 Z"/>
<rect x="720.9" y="1049.5" width="3.3" height="25.8" rx="1.4"/>
<path d="M718.9,1049.8 L726.3,1049.8 L722.6,1041 Z"/>
</g>
<circle cx="725.85" cy="867.1" r="29.7" fill="none" stroke="#8a8a8a" stroke-width="1.05"/>
<g fill="#fff" stroke="#444" stroke-width="0.9">
<rect x="618.3" y="864" width="8.9" height="7"/>
<rect x="627.2" y="865.1" width="8.5" height="4.3"/>
<rect x="635.7" y="863.6" width="5.4" height="7.9" fill="#ccc"/>
<rect x="641.1" y="865" width="5.8" height="4.2"/>
<path d="M648,849.5 C642.5,856 640.5,862 640.8,867.8 C641,874 643,880 648,886 Z"/>
<path d="M654.2,849.8 C649.5,856 647.5,862 647.8,867.8 C648,874 650,880 654.2,886"/>
<rect x="655.2" y="857.9" width="21.5" height="18.9"/>
<path d="M655.2,863.2 L663.5,863.2 L663.5,866 L666.5,866 C668.2,866 668.2,869.2 666.5,869.2 L663.5,869.2 L663.5,871.8 L655.2,871.8" fill="none"/>
<path d="M676.7,862 L681.6,863.3 L681.6,871.3 L676.7,872.6" />
<rect x="681.6" y="862.6" width="6.8" height="9.8" fill="#888"/>
</g>
<line x1="681.6" y1="864.5" x2="688.4" y2="864.5" stroke="#444" stroke-width="0.6"/>
<line x1="681.6" y1="866.5" x2="688.4" y2="866.5" stroke="#444" stroke-width="0.6"/>
<line x1="681.6" y1="868.5" x2="688.4" y2="868.5" stroke="#444" stroke-width="0.6"/>
<line x1="681.6" y1="870.5" x2="688.4" y2="870.5" stroke="#444" stroke-width="0.6"/>
<line x1="635.7" y1="865.5" x2="641.1" y2="865.5" stroke="#666" stroke-width="0.5"/>
<line x1="635.7" y1="867.5" x2="641.1" y2="867.5" stroke="#666" stroke-width="0.5"/>
<line x1="635.7" y1="869.5" x2="641.1" y2="869.5" stroke="#666" stroke-width="0.5"/>
<circle cx="644.3" cy="861.4" r="1.3" fill="#fff" stroke="#555" stroke-width="0.7"/>
<circle cx="644.3" cy="873.4" r="1.3" fill="#fff" stroke="#555" stroke-width="0.7"/>
<line x1="651.3" y1="851" x2="651.3" y2="884.5" stroke="#777" stroke-width="0.7"/>
<path d="M688.4,863.2 C690,858.5 694.5,857 698.5,857.6 C704,858.5 707.8,862.5 707.8,867.2 C707.8,872 704,875.8 698.5,876.6 C694.5,877.2 690,875.5 688.4,871 Z" fill="none" stroke="#444" stroke-width="0.9"/>
<path d="M689,865.5 L694,865.5 C696,862.8 700,862.8 701.2,865.5 C702.4,868.2 699.5,871.5 697,870 L694,869 L689,869" fill="none" stroke="#555" stroke-width="0.8"/>
<path d="M640.5,815.8 L640.5,863.5" fill="none" stroke="#8c8c8c" stroke-width="1.1"/>
<path d="M693.7,815.8 L693.7,857.8" fill="none" stroke="#8c8c8c" stroke-width="1.1"/>
<path d="M725.6,815.0 L725.6,837.4" fill="none" stroke="#8c8c8c" stroke-width="1.1"/>
<g transform="translate(633.1,898.1) rotate(90)" fill="none">
<ellipse cx="0" cy="0" rx="9.50" ry="3.20" stroke="#c4c4c4" stroke-width="1.6"/>
<ellipse cx="0" cy="0" rx="10.5" ry="4.0" stroke="#5a5a5a" stroke-width="0.85"/>
<ellipse cx="0" cy="0" rx="8.50" ry="2.40" stroke="#6a6a6a" stroke-width="0.75"/>
<path d="M-5.78,-4.52 L-3.67,-3.60 L-5.78,-2.12" stroke="#555" stroke-width="0.9"/>
<line x1="0" y1="5.3" x2="0" y2="-11.2" stroke="#777" stroke-width="1.1"/>
<path d="M-1.7,-6.199999999999999 L0,-11.2 L1.7,-6.199999999999999 Z" fill="#666" stroke="#555" stroke-width="0.6"/>
<circle cx="0" cy="5.3" r="1.1" fill="#555"/>
</g>
<g transform="translate(687.3,901.3) rotate(90)" fill="none">
<ellipse cx="0" cy="0" rx="9.50" ry="3.20" stroke="#c4c4c4" stroke-width="1.6"/>
<ellipse cx="0" cy="0" rx="10.5" ry="4.0" stroke="#5a5a5a" stroke-width="0.85"/>
<ellipse cx="0" cy="0" rx="8.50" ry="2.40" stroke="#6a6a6a" stroke-width="0.75"/>
<path d="M-5.78,-4.52 L-3.67,-3.60 L-5.78,-2.12" stroke="#555" stroke-width="0.9"/>
<line x1="0" y1="-4.8" x2="0" y2="11.1" stroke="#777" stroke-width="1.1"/>
<path d="M-1.7,6.1 L0,11.1 L1.7,6.1 Z" fill="#666" stroke="#555" stroke-width="0.6"/>
<circle cx="0" cy="-4.8" r="1.1" fill="#555"/>
</g>
<path d="M718.4,909.8 L723,908 L723,909.1 L732,909.1 L732,910.5 L723,910.5 L723,911.6 Z" fill="#fff" stroke="#666" stroke-width="0.8"/>
<g transform="translate(442.7,713.2) rotate(33)" fill="none">
<ellipse cx="0" cy="0" rx="9.30" ry="2.70" stroke="#c4c4c4" stroke-width="1.6"/>
<ellipse cx="0" cy="0" rx="10.3" ry="3.5" stroke="#5a5a5a" stroke-width="0.85"/>
<ellipse cx="0" cy="0" rx="8.30" ry="1.90" stroke="#6a6a6a" stroke-width="0.75"/>
<path d="M-5.67,-4.10 L-3.60,-3.15 L-5.67,-1.70" stroke="#555" stroke-width="0.9"/>
<line x1="0" y1="-5.5" x2="0" y2="9.5" stroke="#777" stroke-width="1.1"/>
<path d="M-1.7,4.5 L0,9.5 L1.7,4.5 Z" fill="#666" stroke="#555" stroke-width="0.6"/>
<circle cx="0" cy="-5.5" r="1.1" fill="#555"/>
</g>
<path d="M434.6,722.3 L431.2,720.6 L422.6,731.0" fill="none" stroke="#222" stroke-width="1.9" stroke-linecap="round" stroke-linejoin="round"/>
<circle cx="420.3" cy="733.4" r="1.4" fill="#fff" stroke="#333" stroke-width="0.9"/>
<g transform="translate(450.5,747.1) rotate(-60)" fill="none">
<ellipse cx="0" cy="0" rx="9.30" ry="2.80" stroke="#c4c4c4" stroke-width="1.6"/>
<ellipse cx="0" cy="0" rx="10.3" ry="3.6" stroke="#5a5a5a" stroke-width="0.85"/>
<ellipse cx="0" cy="0" rx="8.30" ry="2.00" stroke="#6a6a6a" stroke-width="0.75"/>
<path d="M-5.67,-4.19 L-3.60,-3.24 L-5.67,-1.79" stroke="#555" stroke-width="0.9"/>
<line x1="0" y1="4.5" x2="0" y2="-9.8" stroke="#777" stroke-width="1.1"/>
<path d="M-1.7,-4.800000000000001 L0,-9.8 L1.7,-4.800000000000001 Z" fill="#666" stroke="#555" stroke-width="0.6"/>
<circle cx="0" cy="4.5" r="1.1" fill="#555"/>
</g>
<g transform="translate(579.0,828.6) rotate(28.7)" fill="none">
<ellipse cx="0" cy="0" rx="8.40" ry="2.70" stroke="#c4c4c4" stroke-width="1.6"/>
<ellipse cx="0" cy="0" rx="9.4" ry="3.5" stroke="#5a5a5a" stroke-width="0.85"/>
<ellipse cx="0" cy="0" rx="7.40" ry="1.90" stroke="#6a6a6a" stroke-width="0.75"/>
<path d="M-5.17,-4.10 L-3.29,-3.15 L-5.17,-1.70" stroke="#555" stroke-width="0.9"/>
<line x1="0" y1="-6.0" x2="0" y2="8.5" stroke="#777" stroke-width="1.1"/>
<path d="M-1.7,3.5 L0,8.5 L1.7,3.5 Z" fill="#666" stroke="#555" stroke-width="0.6"/>
<circle cx="0" cy="-6.0" r="1.1" fill="#555"/>
</g>
<path d="M583.9,844.8 L589.8,835.6 L594.9,837.2" fill="none" stroke="#222" stroke-width="1.9" stroke-linecap="round" stroke-linejoin="round"/>
<circle cx="581.6" cy="847.8" r="1.4" fill="#fff" stroke="#333" stroke-width="0.9"/>
<path d="M561.4,824.0 L561.4,830.7 L580.5,846.8" fill="none" stroke="#8c8c8c" stroke-width="1.1"/>
<g transform="translate(555.0,860.0) rotate(-26.6)" fill="none">
<ellipse cx="0" cy="0" rx="8.50" ry="2.70" stroke="#c4c4c4" stroke-width="1.6"/>
<ellipse cx="0" cy="0" rx="9.5" ry="3.5" stroke="#5a5a5a" stroke-width="0.85"/>
<ellipse cx="0" cy="0" rx="7.50" ry="1.90" stroke="#6a6a6a" stroke-width="0.75"/>
<path d="M-5.23,-4.10 L-3.32,-3.15 L-5.23,-1.70" stroke="#555" stroke-width="0.9"/>
<line x1="0" y1="-5.0" x2="0" y2="9.0" stroke="#777" stroke-width="1.1"/>
<path d="M-1.7,4.0 L0,9.0 L1.7,4.0 Z" fill="#666" stroke="#555" stroke-width="0.6"/>
<circle cx="0" cy="-5.0" r="1.1" fill="#555"/>
</g>
<path d="M566.7,862.3 L569.9,861.1 L573.8,874.4" fill="none" stroke="#222" stroke-width="1.9" stroke-linecap="round" stroke-linejoin="round"/>
<circle cx="575.2" cy="877.4" r="1.4" fill="#fff" stroke="#333" stroke-width="0.9"/>
<path d="M538.4,877.6 L574.0,877.6" fill="none" stroke="#8c8c8c" stroke-width="1.1"/>
<g transform="translate(555.6,917.7) rotate(54)" fill="none">
<ellipse cx="0" cy="0" rx="9.50" ry="2.80" stroke="#c4c4c4" stroke-width="1.6"/>
<ellipse cx="0" cy="0" rx="10.5" ry="3.6" stroke="#5a5a5a" stroke-width="0.85"/>
<ellipse cx="0" cy="0" rx="8.50" ry="2.00" stroke="#6a6a6a" stroke-width="0.75"/>
<path d="M-5.78,-4.19 L-3.67,-3.24 L-5.78,-1.79" stroke="#555" stroke-width="0.9"/>
<line x1="0" y1="5.0" x2="0" y2="-9.5" stroke="#777" stroke-width="1.1"/>
<path d="M-1.7,-4.5 L0,-9.5 L1.7,-4.5 Z" fill="#666" stroke="#555" stroke-width="0.6"/>
<circle cx="0" cy="5.0" r="1.1" fill="#555"/>
</g>
<g transform="translate(453.5,984.4) rotate(58)" fill="none">
<ellipse cx="0" cy="0" rx="9.00" ry="3.20" stroke="#c4c4c4" stroke-width="1.6"/>
<ellipse cx="0" cy="0" rx="10.0" ry="4.0" stroke="#5a5a5a" stroke-width="0.85"/>
<ellipse cx="0" cy="0" rx="8.00" ry="2.40" stroke="#6a6a6a" stroke-width="0.75"/>
<path d="M-5.50,-4.52 L-3.50,-3.60 L-5.50,-2.12" stroke="#555" stroke-width="0.9"/>
<line x1="0" y1="-7.0" x2="0" y2="7.5" stroke="#777" stroke-width="1.1"/>
<path d="M-1.7,2.5 L0,7.5 L1.7,2.5 Z" fill="#666" stroke="#555" stroke-width="0.6"/>
<circle cx="0" cy="-7.0" r="1.1" fill="#555"/>
</g>
<path d="M421.0,1000.1 L426.3,1012.5 L423.9,1014.1" fill="none" stroke="#222" stroke-width="1.9" stroke-linecap="round" stroke-linejoin="round"/>
<circle cx="419.4" cy="996.8" r="1.4" fill="#fff" stroke="#333" stroke-width="0.9"/>
<path d="M453.5,971.0 L477.0,971.0" fill="none" stroke="#8c8c8c" stroke-width="1.1"/>
<path d="M421.0,996.8 L477.0,996.8" fill="none" stroke="#8c8c8c" stroke-width="1.1"/>
<g transform="translate(434.4,1023.7) rotate(-20)" fill="none">
<ellipse cx="0" cy="0" rx="8.50" ry="3.00" stroke="#c4c4c4" stroke-width="1.6"/>
<ellipse cx="0" cy="0" rx="9.5" ry="3.8" stroke="#5a5a5a" stroke-width="0.85"/>
<ellipse cx="0" cy="0" rx="7.50" ry="2.20" stroke="#6a6a6a" stroke-width="0.75"/>
<path d="M-5.23,-4.35 L-3.32,-3.42 L-5.23,-1.95" stroke="#555" stroke-width="0.9"/>
<line x1="0" y1="3.5" x2="0" y2="-9.5" stroke="#777" stroke-width="1.1"/>
<path d="M-1.7,-4.5 L0,-9.5 L1.7,-4.5 Z" fill="#666" stroke="#555" stroke-width="0.6"/>
<circle cx="0" cy="3.5" r="1.1" fill="#555"/>
</g>
<g stroke="#555" stroke-width="0.8" fill="#fff" stroke-linejoin="round">
<path d="M171,426.9 L200.9,412.3 L229.5,427.9 L199.6,443.3 Z"/>
<path d="M171,426.9 L171,428.3 L199.6,444.8 L229.5,429.4 L229.5,427.9" fill="none"/>
<path d="M179.5,418.2 L200.9,406.6 L221.7,418.6 L199.6,431.5 Z"/>
<path d="M179.5,418.2 L179.5,426.6 L199.6,438.6 L199.6,431.5 Z"/>
<path d="M199.6,431.5 L221.7,418.6 L221.7,426.4 L199.6,438.6 Z"/>
<path d="M180.4,419.6 L183.0,421.1 L183.0,426.1 L180.4,424.6 Z" fill="#fff" stroke="#444"/>
<path d="M188.9,424.6 L191.5,426.1 L191.5,431.1 L188.9,429.6 Z" fill="#fff" stroke="#444"/>
<path d="M197.2,429.4 L199.79999999999998,430.9 L199.79999999999998,435.9 L197.2,434.4 Z" fill="#fff" stroke="#444"/>
<line x1="187.0" y1="422.5" x2="187.0" y2="429.5" stroke="#555"/>
<line x1="195.4" y1="427.4" x2="195.4" y2="434.4" stroke="#555"/>
<path d="M191.79999999999998,406.5 L191.79999999999998,412.5 A3.9,2.3 0 0 0 199.6,412.5 L199.6,406.5 Z"/>
<ellipse cx="195.7" cy="406.5" rx="3.9" ry="2.3"/>
<ellipse cx="195.7" cy="406.5" rx="2.6" ry="1.4" fill="#777" stroke="#444" stroke-width="0.6"/>
<path d="M200.29999999999998,411 L200.29999999999998,417 A3.9,2.3 0 0 0 208.1,417 L208.1,411 Z"/>
<ellipse cx="204.2" cy="411" rx="3.9" ry="2.3"/>
<ellipse cx="204.2" cy="411" rx="2.6" ry="1.4" fill="#777" stroke="#444" stroke-width="0.6"/>
<path d="M209.4,416.9 L209.4,422.9 A3.9,2.3 0 0 0 217.20000000000002,422.9 L217.20000000000002,416.9 Z"/>
<ellipse cx="213.3" cy="416.9" rx="3.9" ry="2.3"/>
<ellipse cx="213.3" cy="416.9" rx="2.6" ry="1.4" fill="#777" stroke="#444" stroke-width="0.6"/>
<path d="M184.0,411 L184.0,417 A3.9,2.3 0 0 0 191.8,417 L191.8,411 Z"/>
<ellipse cx="187.9" cy="411" rx="3.9" ry="2.3"/>
<ellipse cx="187.9" cy="411" rx="2.6" ry="1.4" fill="#777" stroke="#444" stroke-width="0.6"/>
<path d="M192.5,416.2 L192.5,422.2 A3.9,2.3 0 0 0 200.3,422.2 L200.3,416.2 Z"/>
<ellipse cx="196.4" cy="416.2" rx="3.9" ry="2.3"/>
<ellipse cx="196.4" cy="416.2" rx="2.6" ry="1.4" fill="#777" stroke="#444" stroke-width="0.6"/>
<path d="M201.6,421.4 L201.6,427.4 A3.9,2.3 0 0 0 209.4,427.4 L209.4,421.4 Z"/>
<ellipse cx="205.5" cy="421.4" rx="3.9" ry="2.3"/>
<ellipse cx="205.5" cy="421.4" rx="2.6" ry="1.4" fill="#777" stroke="#444" stroke-width="0.6"/>
</g>
<path d="M238.6,398 C230,399.5 220,402 211.5,407.4" fill="none" stroke="#666" stroke-width="2.6" stroke-linecap="round"/>
<path d="M238.6,398 C230,399.5 220,402 211.5,407.4" fill="none" stroke="#fff" stroke-width="1.0" stroke-linecap="round"/>
<path d="M241.9,399.3 C236,404 228,409 219.6,413.5" fill="none" stroke="#666" stroke-width="2.6" stroke-linecap="round"/>
<path d="M241.9,399.3 C236,404 228,409 219.6,413.5" fill="none" stroke="#fff" stroke-width="1.0" stroke-linecap="round"/>
<path d="M245.1,401.3 C241,408 235,413.5 228.6,418" fill="none" stroke="#666" stroke-width="2.6" stroke-linecap="round"/>
<path d="M245.1,401.3 C241,408 235,413.5 228.6,418" fill="none" stroke="#fff" stroke-width="1.0" stroke-linecap="round"/>
<path d="M211.5,407.4 L207.5,409.5 M219.6,413.5 L215.6,415.8 M228.6,418 L224.5,420.4" stroke="#666" stroke-width="1" fill="none"/>
<path d="M181.5,433 C175,437 168,441 160.5,449.5" fill="none" stroke="#666" stroke-width="2.6" stroke-linecap="round"/>
<path d="M181.5,433 C175,437 168,441 160.5,449.5" fill="none" stroke="#fff" stroke-width="1.0" stroke-linecap="round"/>
<path d="M186,437 C178,444 172,452 163.5,459.5" fill="none" stroke="#666" stroke-width="2.6" stroke-linecap="round"/>
<path d="M186,437 C178,444 172,452 163.5,459.5" fill="none" stroke="#fff" stroke-width="1.0" stroke-linecap="round"/>
<path d="M192.5,439.5 C184,446 174,449.5 163,451.5" fill="none" stroke="#666" stroke-width="2.6" stroke-linecap="round"/>
<path d="M192.5,439.5 C184,446 174,449.5 163,451.5" fill="none" stroke="#fff" stroke-width="1.0" stroke-linecap="round"/>
<rect x="156" y="447.5" width="4.5" height="4.5" fill="#fff" stroke="#666" stroke-width="0.8" transform="rotate(-30 158 450)"/>
<g transform="translate(215.9,393.5) rotate(148.76)"><path d="M0,-1.1 L13.04,-1.1 L13.04,-2.5 L17.54,0 L13.04,2.5 L13.04,1.1 L0,1.1 Z" fill="#fff" stroke="#777" stroke-width="0.8"/></g>
<g transform="translate(250.3,413.6) rotate(148.59)"><path d="M0,-1.1 L12.96,-1.1 L12.96,-2.5 L17.46,0 L12.96,2.5 L12.96,1.1 L0,1.1 Z" fill="#fff" stroke="#777" stroke-width="0.8"/></g>
<g transform="translate(152.8,435.7) rotate(-29.25)"><path d="M0,-1.1 L12.69,-1.1 L12.69,-2.5 L17.19,0 L12.69,2.5 L12.69,1.1 L0,1.1 Z" fill="#fff" stroke="#777" stroke-width="0.8"/></g>
<g transform="translate(184.0,457.2) rotate(-29.54)"><path d="M0,-1.1 L12.74,-1.1 L12.74,-2.5 L17.24,0 L12.74,2.5 L12.74,1.1 L0,1.1 Z" fill="#fff" stroke="#777" stroke-width="0.8"/></g>
<circle cx="193.2" cy="867.3" r="18.3" fill="#fff" stroke="#666666" stroke-width="1"/>
<circle cx="600.2" cy="867.0" r="18.35" fill="#fff" stroke="#666666" stroke-width="1"/>
<line x1="587.2" y1="854.6" x2="613.2" y2="854.6" stroke="#666666" stroke-width="0.9"/>
<circle cx="396.7" cy="1006.9" r="18.5" fill="#fff" stroke="#666666" stroke-width="1"/>
<path d="M383.6,714.1 A18.6,18.6 0 1 0 409.8,714.1 Z" fill="#fff" stroke="#666666" stroke-width="1"/>
<rect x="394.3" y="710.8" width="4.6" height="34.4" rx="1.5" fill="#fff" stroke="#666666" stroke-width="0.9"/>
<rect x="393.6" y="745.2" width="6" height="3" fill="#fff" stroke="#666666" stroke-width="0.9"/>
<path d="M384.5,741.5 C386,739 389,738 392,739.5 C394.5,741 395,744 393,745.3 C390,746.5 386,745 384.5,741.5 Z" fill="#ddd" stroke="#444" stroke-width="0.7"/>
<path d="M386.5,739.5 L389,744.5 M389.5,739 L391.8,744.5 M387.5,742.5 L391,740" stroke="#444" stroke-width="0.6"/>
<path d="M380.2,737 C383,733 388,731.5 394.8,731.4 C399,731.3 402,733 406.3,730.6" fill="none" stroke="#222" stroke-width="1.1"/>
<path d="M381.8,738 C385,734.5 390,733.8 397.2,733.6 C401,733.6 405,735.8 409.6,738.2" fill="none" stroke="#333" stroke-width="0.9"/>
<path d="M405.2,729.2 L412.6,724.2 L414.6,727 L407.2,732 Z" fill="#fff" stroke="#333" stroke-width="0.8"/>
<path d="M407.3,385.0 L477.4,385.0" fill="none" stroke="#8c8c8c" stroke-width="1.1"/>
<path d="M418.0,401.8 L477.4,401.8" fill="none" stroke="#8c8c8c" stroke-width="1.1"/>
<path d="M407.6,404.8 L452.7,430.7 L477.4,430.7" fill="none" stroke="#8c8c8c" stroke-width="1.1"/>
<path d="M416.5,455.2 L477.4,455.2" fill="none" stroke="#8c8c8c" stroke-width="1.1"/>
<path d="M401.0,549.0 L478.0,549.0" fill="none" stroke="#8c8c8c" stroke-width="1.1"/>
<path d="M405.0,701.0 L485.0,701.0" fill="none" stroke="#8c8c8c" stroke-width="1.1"/>
<path d="M366.6,715.4 L376.0,715.4 L407.2,728.5" fill="none" stroke="#8c8c8c" stroke-width="1.1"/>
<path d="M366.6,736.6 L379.0,736.6" fill="none" stroke="#8c8c8c" stroke-width="1.1"/>
<path d="M423.2,735.1 L485.0,735.1" fill="none" stroke="#8c8c8c" stroke-width="1.1"/>
<path d="M460.0,772.5 L485.0,772.5" fill="none" stroke="#8c8c8c" stroke-width="1.1"/>
<path d="M242.9,352.8 L242.9,399.5" fill="none" stroke="#8c8c8c" stroke-width="1.1"/>
<path d="M235.0,352.8 L242.9,352.8" fill="none" stroke="#8c8c8c" stroke-width="1.1"/>
<path d="M219.6,377.1 L234.2,377.1 L234.2,397.0" fill="none" stroke="#8c8c8c" stroke-width="1.1"/>
<path d="M239.6,444.6 L231.7,444.6 L231.7,418.0" fill="none" stroke="#8c8c8c" stroke-width="1.1"/>
<g fill="#111">
<path transform="translate(479.00,387.3) scale(0.01062,-0.01108)" d="M763,0 L583,0 L583,1098 Q518,1039 412,979 Q306,920 221,890 L221,1057 Q372,1125 485,1221 Q598,1318 645,1409 L763,1409 Z" fill="#111"/>
<text x="491.10" y="387.3" font-size="22.7" fill="#111" textLength="12.10" lengthAdjust="spacingAndGlyphs">0</text>
<path transform="translate(479.00,410.5) scale(0.01062,-0.01108)" d="M763,0 L583,0 L583,1098 Q518,1039 412,979 Q306,920 221,890 L221,1057 Q372,1125 485,1221 Q598,1318 645,1409 L763,1409 Z" fill="#111"/>
<path transform="translate(491.10,410.5) scale(0.01062,-0.01108)" d="M763,0 L583,0 L583,1098 Q518,1039 412,979 Q306,920 221,890 L221,1057 Q372,1125 485,1221 Q598,1318 645,1409 L763,1409 Z" fill="#111"/>
<path transform="translate(479.00,434.6) scale(0.01062,-0.01108)" d="M763,0 L583,0 L583,1098 Q518,1039 412,979 Q306,920 221,890 L221,1057 Q372,1125 485,1221 Q598,1318 645,1409 L763,1409 Z" fill="#111"/>
<text x="491.10" y="434.6" font-size="22.7" fill="#111" textLength="12.10" lengthAdjust="spacingAndGlyphs">2</text>
<path transform="translate(479.00,462.6) scale(0.01062,-0.01108)" d="M763,0 L583,0 L583,1098 Q518,1039 412,979 Q306,920 221,890 L221,1057 Q372,1125 485,1221 Q598,1318 645,1409 L763,1409 Z" fill="#111"/>
<text x="491.10" y="462.6" font-size="22.7" fill="#111" textLength="12.10" lengthAdjust="spacingAndGlyphs">4</text>
<text x="479.50" y="555.8" font-size="22.7" fill="#111" textLength="12.10" lengthAdjust="spacingAndGlyphs">9</text>
<text x="487.00" y="708.8" font-size="22.7" fill="#111" textLength="12.10" lengthAdjust="spacingAndGlyphs">8</text>
<text x="487.50" y="744.0" font-size="22.7" fill="#111" textLength="12.10" lengthAdjust="spacingAndGlyphs">7</text>
<text x="487.50" y="780.6" font-size="22.7" fill="#111" textLength="12.10" lengthAdjust="spacingAndGlyphs">5</text>
<text x="549.70" y="821.6" font-size="22.7" fill="#111" textLength="12.10" lengthAdjust="spacingAndGlyphs">6</text>
<path transform="translate(631.00,814.0) scale(0.01062,-0.01108)" d="M763,0 L583,0 L583,1098 Q518,1039 412,979 Q306,920 221,890 L221,1057 Q372,1125 485,1221 Q598,1318 645,1409 L763,1409 Z" fill="#111"/>
<text x="643.10" y="814.0" font-size="22.7" fill="#111" textLength="12.10" lengthAdjust="spacingAndGlyphs">7</text>
<path transform="translate(675.50,814.0) scale(0.01062,-0.01108)" d="M763,0 L583,0 L583,1098 Q518,1039 412,979 Q306,920 221,890 L221,1057 Q372,1125 485,1221 Q598,1318 645,1409 L763,1409 Z" fill="#111"/>
<text x="687.60" y="814.0" font-size="22.7" fill="#111" textLength="12.10" lengthAdjust="spacingAndGlyphs">5</text>
<path transform="translate(711.50,812.4) scale(0.01062,-0.01108)" d="M763,0 L583,0 L583,1098 Q518,1039 412,979 Q306,920 221,890 L221,1057 Q372,1125 485,1221 Q598,1318 645,1409 L763,1409 Z" fill="#111"/>
<text x="723.60" y="812.4" font-size="22.7" fill="#111" textLength="12.10" lengthAdjust="spacingAndGlyphs">6</text>
<text x="521.80" y="885.7" font-size="22.7" fill="#111" textLength="12.10" lengthAdjust="spacingAndGlyphs">4</text>
<text x="480.60" y="980.0" font-size="22.7" fill="#111" textLength="12.10" lengthAdjust="spacingAndGlyphs">2</text>
<text x="480.60" y="1005.3" font-size="22.7" fill="#111" textLength="12.10" lengthAdjust="spacingAndGlyphs">3</text>
<path transform="translate(729.50,1076.0) scale(0.01062,-0.01108)" d="M763,0 L583,0 L583,1098 Q518,1039 412,979 Q306,920 221,890 L221,1057 Q372,1125 485,1221 Q598,1318 645,1409 L763,1409 Z" fill="#111"/>
<text x="741.60" y="1076.0" font-size="22.7" fill="#111" textLength="12.10" lengthAdjust="spacingAndGlyphs">8</text>
<path transform="translate(209.50,477.9) scale(0.01076,-0.01113)" d="M763,0 L583,0 L583,1098 Q518,1039 412,979 Q306,920 221,890 L221,1057 Q372,1125 485,1221 Q598,1318 645,1409 L763,1409 Z" fill="#111"/>
<text x="221.75" y="477.9" font-size="22.8" fill="#111" textLength="12.25" lengthAdjust="spacingAndGlyphs">3</text>
<path transform="translate(174.50,270.1) scale(0.01062,-0.01108)" d="M763,0 L583,0 L583,1098 Q518,1039 412,979 Q306,920 221,890 L221,1057 Q372,1125 485,1221 Q598,1318 645,1409 L763,1409 Z" fill="#111"/>
<text x="152.5" y="361.0" font-size="19.5" fill="#111" >YELLOW</text>
<text x="168.5" y="384.0" font-size="19.5" fill="#111" >BLUE</text>
<text x="240.5" y="451.6" font-size="19.5" fill="#111" >BROWN</text>
<text x="291.6" y="723.0" font-size="19.0" fill="#111" >BROWN</text>
<text x="312.6" y="745.5" font-size="19.0" fill="#111" >BLUE</text>
<text x="151.8" y="304.9" font-size="22.0" fill="#111" textLength="35.5" lengthAdjust="spacingAndGlyphs" stroke="#111" stroke-width="0.5">OFF</text>
<text x="711.3" y="1108.0" font-size="21.0" fill="#111" textLength="22.0" lengthAdjust="spacingAndGlyphs" stroke="#111" stroke-width="0.5">ON</text>
</g>
</g>
<!--/D-->
</svg>
</body></html>
